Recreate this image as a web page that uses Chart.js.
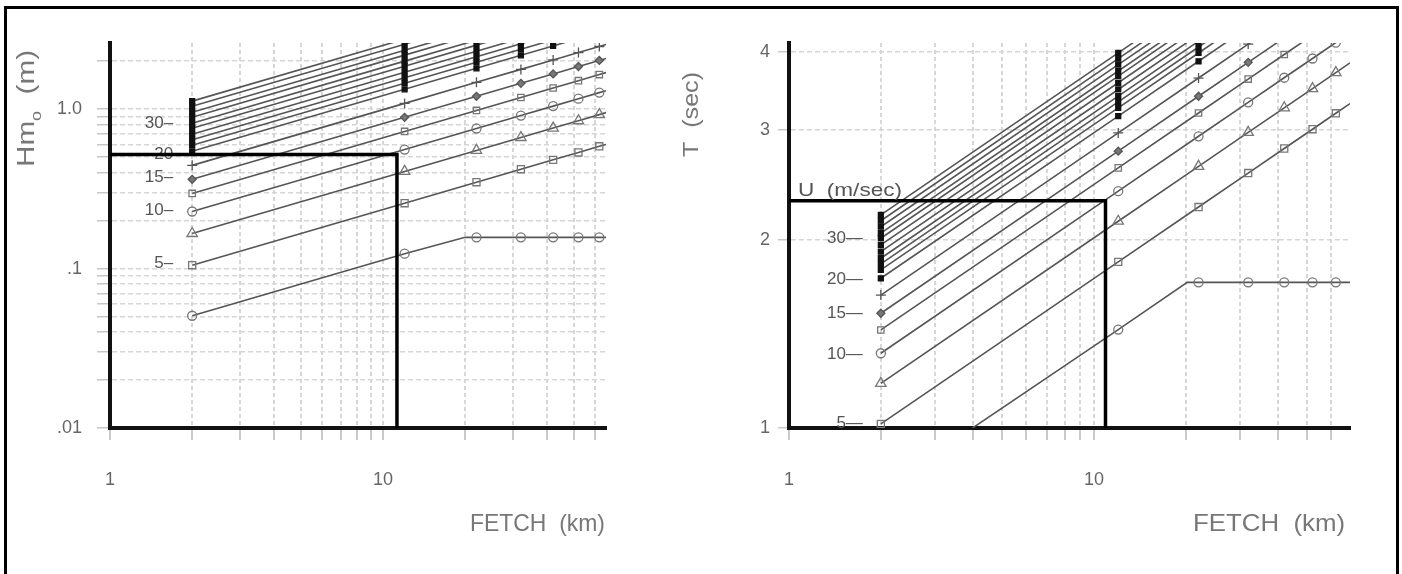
<!DOCTYPE html>
<html>
<head>
<meta charset="utf-8">
<script src="https://cdn.jsdelivr.net/npm/chart.js@4.4.1/dist/chart.umd.min.js"></script>
<style>
  html, body { margin: 0; padding: 0; background: #fff; }
  body { width: 1402px; height: 574px; position: relative; overflow: hidden; }
  #hmoChart { position: absolute; left: 0; top: 0; }
  #periodChart { position: absolute; left: 660px; top: 0; }
  .frame { position: absolute; left: 4px; top: 6px; width: 1389px; height: 620px; border: 3px solid #000; pointer-events: none; }
</style>
</head>
<body>
<canvas id="hmoChart" width="660" height="574"></canvas>
<canvas id="periodChart" width="742" height="574"></canvas>
<div class="frame"></div>
<script>
const FONT = "'Liberation Sans', Arial, sans-serif";

// symbols sit at these fetches (km)
const fetchKm    = [2, 12, 22, 32, 42, 52, 62];
const fetchTicks = [1, 10];

// ---- left panel : wave height Hmo (m), one row per wind speed U (m/s)
// values at fetchKm, last one at the right edge of the plot
const hmoWind = [2.5, 5, 7.5, 10, 12.5, 15, 17.5, 20, 22, 24, 26, 28, 30, 32, 34, 36, 38];
const hmoRows = [
  [0.0506, 0.124, 0.157, 0.157, 0.157, 0.157, 0.157, 0.157],
  [0.105, 0.257, 0.348, 0.420, 0.481, 0.535, 0.585, 0.601],
  [0.166, 0.407, 0.551, 0.664, 0.761, 0.846, 0.924, 0.951],
  [0.228, 0.558, 0.756, 0.912, 1.045, 1.163, 1.270, 1.306],
  [0.296, 0.725, 0.982, 1.184, 1.357, 1.509, 1.648, 1.695],
  [0.363, 0.889, 1.204, 1.452, 1.664, 1.851, 2.021, 2.079],
  [0.444, 1.087, 1.473, 1.776, 2.035, 2.264, 2.472, 2.543],
  [0.544, 1.332, 1.804, 2.176, 2.493, 2.774],
  [0.594, 1.455, 1.970, 2.376, 2.722],
  [0.643, 1.575, 2.133, 2.572, 2.947],
  [0.696, 1.705, 2.309, 2.784],
  [0.760, 1.861, 2.521, 3.040],
  [0.817, 2.001, 2.710],
  [0.891, 2.182, 2.955],
  [0.957, 2.344, 3.174],
  [1.044, 2.557, 3.463],
  [1.123, 2.750]
];
const hmoEdgeKm   = 65.6;
const hmoBend     = [20, 0.157];          // lowest line levels off here
const hmoRange    = [0.01, 2.6];
const hmoTicks    = [0.01, 0.1, 1];
const hmoTickText = [".01", ".1", "1.0"];
const hmoTags     = ["5\u2013", "10\u2013", "15\u2013", "20", "30\u2013"];
const hmoTagAt    = [0.1075, 0.232, 0.373, 0.521, 0.817];
const hmoRead     = [11.25, 0.52];        // fetch (km), Hmo (m)

// ---- right panel : period T (sec)
const tWind = [2.5, 5, 7.5, 10, 12.5, 15, 17.5, 20, 22, 24, 26, 28, 30, 32, 34, 36, 38, 40];
const tRows = [
  [0.796, 1.437, 1.71, 1.71, 1.71, 1.71, 1.71, 1.71],
  [1.015, 1.844, 2.257, 2.558, 2.800, 3.006, 3.188, 3.304],
  [1.179, 2.142, 2.622, 2.971, 3.253, 3.492, 3.703, 3.838],
  [1.317, 2.393, 2.929, 3.319, 3.634, 3.901, 4.137, 4.287],
  [1.435, 2.607, 3.191, 3.616, 3.959, 4.250],
  [1.526, 2.773, 3.394, 3.846, 4.210],
  [1.632, 2.965, 3.630, 4.113, 4.503],
  [1.736, 3.154, 3.861, 4.375],
  [1.790, 3.252, 3.981, 4.511],
  [1.830, 3.325, 4.070, 4.612],
  [1.869, 3.396, 4.157],
  [1.915, 3.480, 4.259],
  [1.963, 3.567, 4.366],
  [2.012, 3.656, 4.475],
  [2.050, 3.725, 4.559],
  [2.099, 3.814, 4.668],
  [2.146, 3.899, 4.773],
  [2.192, 3.983, 4.875]
];
const tEdgeKm  = 69;
const tBend    = [20.2, 1.71];
const tRange   = [1, 4.13];
const tTicks   = [1, 2, 3, 4];
const tTags    = ["5\u2014", "10\u2014", "15\u2014", "20\u2014", "30\u2014"];
const tTagAt   = [1.019, 1.313, 1.528, 1.731, 2.014];
const tRead    = [10.9, 2.31];

// symbol per line, from the lowest wind upwards
const markStyles = [
  {style: "circle",   r: 4.5, edge: "#777", fill: "rgba(0,0,0,0)"},
  {style: "rect",     r: 5,   edge: "#777", fill: "rgba(0,0,0,0)"},
  {style: "triangle", r: 6,   edge: "#777", fill: "rgba(0,0,0,0)"},
  {style: "circle",   r: 4.5, edge: "#777", fill: "rgba(0,0,0,0)"},
  {style: "rect",     r: 4.5, edge: "#777", fill: "rgba(0,0,0,0)"},
  {style: "rectRot",  r: 4,   edge: "#555", fill: "#777"},
  {style: "cross",    r: 5,   edge: "#555", fill: "#555"},
  {style: "rect",     r: 3.5, edge: "#111", fill: "#111"}
];

function gridValues (lo, hi) {
  let vals = [];
  for (let d = Math.floor(Math.log10(lo)); d <= Math.ceil(Math.log10(hi)); d++) {
    for (let m = 1; m <= 9; m++) {
      let v = Number((m * Math.pow(10, d)).toPrecision(3));
      if (v >= lo && v <= hi) vals.push(v);
    }
  }
  return vals;
}

function lineSets (rows, wind, edgeKm, bend) {
  return rows.map((row, k) => {
    let pts = row.map((v, i) => ({
      x: i < fetchKm.length ? fetchKm[i] : edgeKm,
      y: v,
      mark: i < fetchKm.length
    }));
    if (k === 0) {
      pts.push({x: bend[0], y: bend[1], mark: false});
      pts.sort((a, b) => a.x - b.x);
    }
    let st = markStyles[Math.min(k, markStyles.length - 1)];
    return {
      label: "U = " + wind[k],
      data: pts,
      borderColor: "#555",
      borderWidth: 1.6,
      tension: 0,
      pointStyle: st.style,
      pointRadius: ctx => (ctx.raw && ctx.raw.mark ? st.r : 0),
      pointBorderColor: st.edge,
      pointBackgroundColor: st.fill,
      pointBorderWidth: 1.3
    };
  });
}

function readSet (read, yMin) {
  return {
    label: "reading",
    data: [{x: 1, y: read[1]}, {x: read[0], y: read[1]}, {x: read[0], y: yMin}],
    borderColor: "#000",
    borderWidth: 3.5,
    pointRadius: 0,
    tension: 0
  };
}

function putText (ctx, str, x, y, size, color, width, align) {
  ctx.save();
  ctx.font = size + "px " + FONT;
  ctx.fillStyle = color;
  ctx.textBaseline = "alphabetic";
  ctx.textAlign = "left";
  let w = ctx.measureText(str).width;
  let k = width ? width / w : 1;
  ctx.translate(align === "right" ? x - w * k : x, y);
  ctx.scale(k, 1);
  ctx.fillText(str, 0, 0);
  ctx.restore();
}

// rotated axis title, parts = [text, size, drop]
function sideTitle (ctx, parts, x, yStart, length, color) {
  ctx.save();
  let total = 0;
  parts.forEach(p => { ctx.font = p[1] + "px " + FONT; total += ctx.measureText(p[0]).width; });
  ctx.translate(x, yStart);
  ctx.rotate(-Math.PI / 2);
  ctx.scale(length / total, 1);
  ctx.fillStyle = color;
  ctx.textBaseline = "alphabetic";
  let pos = 0;
  parts.forEach(p => {
    ctx.font = p[1] + "px " + FONT;
    ctx.fillText(p[0], pos, p[2]);
    pos += ctx.measureText(p[0]).width;
  });
  ctx.restore();
}

function tagPlugin (tags, tagAt, gap, size) {
  return {
    id: "windTags",
    beforeDatasetsDraw (chart) {
      let ctx = chart.ctx;
      let xr = chart.scales.x.getPixelForValue(fetchKm[0]) - gap;
      ctx.save();
      ctx.font = size + "px " + FONT;
      ctx.fillStyle = "#555";
      ctx.textAlign = "right";
      ctx.textBaseline = "middle";
      tags.forEach((t, i) => ctx.fillText(t, xr, chart.scales.y.getPixelForValue(tagAt[i])));
      ctx.restore();
    }
  };
}

function makeChart (id, cfg) {
  let ctx = document.getElementById(id);
  return new Chart(ctx, {
    type: "line",
    data: {datasets: [readSet(cfg.read, cfg.yRange[0])].concat(lineSets(cfg.rows, cfg.wind, cfg.edgeKm, cfg.bend))},
    options: {
      responsive: false,
      animation: false,
      devicePixelRatio: 1,
      layout: {padding: {left: 0, top: 43, right: cfg.padRight, bottom: 0}},
      plugins: {legend: {display: false}, tooltip: {enabled: false}},
      scales: {
        x: {
          type: "logarithmic",
          min: 1,
          max: cfg.edgeKm,
          afterFit: s => { s.height = 146; },
          afterBuildTicks: s => { s.ticks = gridValues(1, cfg.edgeKm).map(v => ({value: v})); },
          ticks: {
            autoSkip: false, maxRotation: 0, padding: 29, color: "#666",
            font: {family: FONT, size: 18},
            callback: v => (fetchTicks.includes(v) ? String(v) : "")
          },
          grid: {color: "#d6d6d6", lineWidth: 2, tickLength: 12, tickColor: "#cacaca", tickWidth: 2},
          border: {color: "#111", width: 4, dash: [4, 3]}
        },
        y: {
          type: "logarithmic",
          min: cfg.yRange[0],
          max: cfg.yRange[1],
          afterFit: s => { s.width = cfg.yWidth; },
          afterBuildTicks: s => { s.ticks = cfg.yGrid.map(v => ({value: v})); },
          ticks: {
            autoSkip: false, padding: cfg.yPad, color: "#666",
            font: {family: FONT, size: 18},
            callback: cfg.yLabel
          },
          grid: {color: "#d6d6d6", lineWidth: 1.5, tickLength: cfg.yTick, tickColor: "#c8c8c8", tickWidth: 1.5},
          border: {color: "#111", width: 4, dash: [5, 3]}
        }
      }
    },
    plugins: [tagPlugin(cfg.tags, cfg.tagAt, cfg.tagGap, 17), {id: "titles", afterDraw: cfg.titles}]
  });
}

makeChart("hmoChart", {
  rows: hmoRows, wind: hmoWind, edgeKm: hmoEdgeKm, bend: hmoBend, read: hmoRead,
  yRange: hmoRange, yGrid: gridValues(hmoRange[0], hmoRange[1]),
  yLabel: v => { let i = hmoTicks.indexOf(v); return i < 0 ? "" : hmoTickText[i]; },
  yWidth: 110, yPad: 15, yTick: 13, padRight: 54,
  tags: hmoTags, tagAt: hmoTagAt, tagGap: 19,
  titles: chart => {
    let ctx = chart.ctx;
    putText(ctx, "FETCH  (km)", 470, 531, 24, "#777", 135);
    sideTitle(ctx, [["Hm", 23, 0], ["o", 14, 7], ["  (m)", 23, 0]], 34, 167, 117, "#777");
  }
});

makeChart("periodChart", {
  rows: tRows, wind: tWind, edgeKm: tEdgeKm, bend: tBend, read: tRead,
  yRange: tRange, yGrid: tTicks,
  yLabel: v => (tTicks.includes(v) ? String(v) : ""),
  yWidth: 129, yPad: 8, yTick: 11, padRight: 52,
  tags: tTags, tagAt: tTagAt, tagGap: 18,
  titles: chart => {
    let ctx = chart.ctx;
    putText(ctx, "FETCH  (km)", 533, 531, 24, "#777", 152);
    putText(ctx, "U  (m/sec)", 138, 196, 18, "#555", 104);
    sideTitle(ctx, [["T  (sec)", 22, 0]], 38, 157, 85, "#777");
  }
});
</script>
</body>
</html>
